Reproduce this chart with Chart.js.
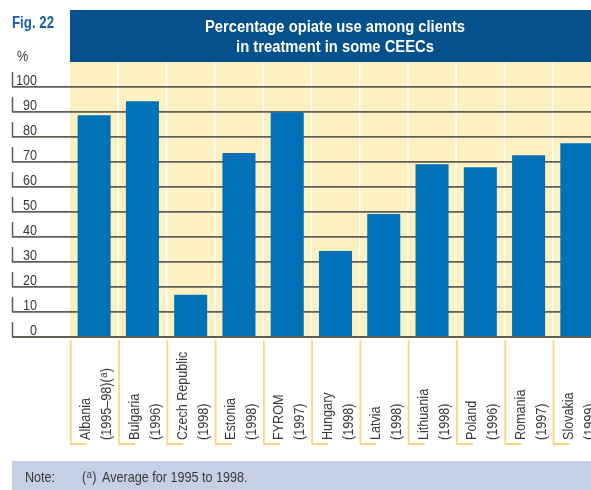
<!DOCTYPE html>
<html>
<head>
<meta charset="utf-8">
<script src="https://cdn.jsdelivr.net/npm/chart.js@4.4.1/dist/chart.umd.min.js"></script>
<style>
  html, body { margin: 0; padding: 0; background: #fff; width: 591px; height: 490px; overflow: hidden; }
  canvas { display: block; }
</style>
</head>
<body>
<canvas id="chartOpiate" width="601" height="490"></canvas>
<script>
const countries = ["Albania", "Bulgaria", "Czech Republic", "Estonia", "FYROM", "Hungary", "Latvia", "Lithuania", "Poland", "Romania", "Slovakia"];
const years = ["(1995–98)", "(1996)", "(1998)", "(1998)", "(1997)", "(1998)", "(1998)", "(1998)", "(1996)", "(1997)", "(1999)"];
const noteMarks = [true, false, false, false, false, false, false, false, false, false, false];
const opiateShare = [88.7, 94.3, 16.9, 73.6, 89.9, 34.4, 49.2, 69.1, 67.9, 72.7, 77.5];
const yTicks = [0, 10, 20, 30, 40, 50, 60, 70, 80, 90, 100];

const titleLines = ["Percentage opiate use among clients", "in treatment in some CEECs"];
const figLabel = "Fig. 22";
const unitLabel = "%";
const noteText = "Average for 1995 to 1998.";

const FONT = '"Liberation Sans", Arial, sans-serif';
const NARROW = 0.84; // squeeze to imitate a condensed face
const TEXT_COLOR = "#3b3b3b";
const GRID_COLOR = "#625d55";

const chartElement = document.querySelector("#chartOpiate");

// text squeezed along its own direction; returns the drawn width
const narrowText = (ctx, text, x, y, font, align = "left", squeeze = NARROW) => {
  ctx.save();
  ctx.font = font;
  ctx.textAlign = align;
  ctx.textBaseline = "alphabetic";
  ctx.translate(x, y);
  ctx.scale(squeeze, 1);
  ctx.fillText(text, 0, 0);
  const w = ctx.measureText(text).width * squeeze;
  ctx.restore();
  return w;
};

// draws "pre(a)" with the small raised a
const drawWithMark = (ctx, pre, x, y, size) => {
  let cx = x;
  cx += narrowText(ctx, pre + "(", cx, y, `${size}px ${FONT}`);
  cx += narrowText(ctx, "a", cx + 0.5, y - size * 0.3, `${Math.round(size * 0.72)}px ${FONT}`) + 1;
  cx += narrowText(ctx, ")", cx, y, `${size}px ${FONT}`);
  return cx;
};

const decorPlugin = {
  id: "decor",
  beforeDraw(chart) {
    const { ctx, chartArea, scales: { x, y } } = chart;
    const y0 = y.getPixelForValue(0);
    const half = (x.getPixelForValue(1) - x.getPixelForValue(0)) / 2;
    ctx.save();
    // title band
    ctx.fillStyle = "#04518C";
    ctx.fillRect(chartArea.left, 10, chart.width - chartArea.left, 52);
    // yellow plot background
    ctx.fillStyle = "#FDF0C1";
    ctx.fillRect(chartArea.left, 62, chartArea.right - chartArea.left, y0 - 62);
    // white separators
    ctx.strokeStyle = "#ffffff";
    ctx.lineWidth = 1.5;
    for (let i = 1; i < countries.length; i++) {
      const bx = x.getPixelForValue(i) - half;
      ctx.beginPath();
      ctx.moveTo(bx, 62);
      ctx.lineTo(bx, y0);
      ctx.stroke();
    }
    ctx.restore();
  },
  afterDatasetsDraw(chart) {
    const { ctx, scales: { y } } = chart;
    const y0 = y.getPixelForValue(0);
    ctx.save();
    ctx.strokeStyle = GRID_COLOR;
    ctx.lineWidth = 1.8;
    ctx.beginPath();
    ctx.moveTo(12, y0);
    ctx.lineTo(chart.width, y0);
    ctx.stroke();
    ctx.restore();
  },
  afterDraw(chart) {
    const { ctx, scales: { x, y } } = chart;
    const half = (x.getPixelForValue(1) - x.getPixelForValue(0)) / 2;
    ctx.save();

    // fig label
    ctx.fillStyle = "#1C5DA6";
    narrowText(ctx, figLabel, 12, 28, `bold 17px ${FONT}`, "left", 0.78);

    // title
    ctx.fillStyle = "#ffffff";
    narrowText(ctx, titleLines[0], 335, 32, `bold 16.5px ${FONT}`, "center", 0.895);
    narrowText(ctx, titleLines[1], 335, 52, `bold 16.5px ${FONT}`, "center", 0.895);

    // unit
    ctx.fillStyle = TEXT_COLOR;
    narrowText(ctx, unitLabel, 17, 61, `15px ${FONT}`);

    // y tick labels and the small vertical marks at their left
    ctx.strokeStyle = GRID_COLOR;
    ctx.lineWidth = 1.5;
    y.ticks.forEach((t) => {
      const py = y.getPixelForValue(t.value);
      ctx.beginPath();
      ctx.moveTo(12.5, py - 15);
      ctx.lineTo(12.5, py);
      ctx.stroke();
      ctx.fillStyle = TEXT_COLOR;
      narrowText(ctx, String(t.value), 37, py - 2.5, `15px ${FONT}`, "right");
    });

    // category brackets and rotated labels
    const y0 = y.getPixelForValue(0);
    countries.forEach((name, i) => {
      const bx = x.getPixelForValue(i) - half + 0.75;
      ctx.strokeStyle = "#FCD684";
      ctx.lineWidth = 1.8;
      ctx.beginPath();
      ctx.moveTo(bx, y0 + 3);
      ctx.lineTo(bx, 444);
      ctx.lineTo(bx + 16, 444);
      ctx.stroke();

      ctx.save();
      ctx.translate(bx, 440);
      ctx.rotate(-Math.PI / 2);
      ctx.fillStyle = TEXT_COLOR;
      narrowText(ctx, name, 0, 19.5, `15px ${FONT}`);
      if (noteMarks[i]) {
        drawWithMark(ctx, years[i], 0, 40.5, 15);
      } else {
        narrowText(ctx, years[i], 0, 40.5, `15px ${FONT}`);
      }
      ctx.restore();
    });

    // note band
    ctx.fillStyle = "#C5D0E5";
    ctx.fillRect(12, 461, chart.width - 12, 29);
    ctx.fillStyle = TEXT_COLOR;
    narrowText(ctx, "Note:", 25, 482, `15px ${FONT}`);
    drawWithMark(ctx, "", 82, 482, 15);
    narrowText(ctx, noteText, 102, 482, `15px ${FONT}`);

    ctx.restore();
  },
};

new Chart(chartElement, {
  type: "bar",
  data: {
    labels: countries,
    datasets: [
      {
        label: "Opiate use (%)",
        data: opiateShare,
        backgroundColor: "#0070B9",
        borderWidth: 0,
        barPercentage: 0.684,
        categoryPercentage: 1,
      },
    ],
  },
  options: {
    responsive: false,
    animation: false,
    devicePixelRatio: 1,
    layout: {
      padding: { top: 87, bottom: 153, left: 12, right: 0 },
    },
    scales: {
      x: {
        display: false,
      },
      y: {
        min: 0,
        max: 100,
        afterBuildTicks: (scale) => {
          scale.ticks = yTicks.map((v) => ({ value: v }));
        },
        afterFit: (scale) => {
          scale.width = 58;
        },
        border: { display: false },
        grid: {
          color: GRID_COLOR,
          lineWidth: 1.8,
          drawTicks: true,
          tickLength: 58,
          tickColor: GRID_COLOR,
        },
        ticks: {
          display: false,
        },
      },
    },
    plugins: {
      legend: { display: false },
      tooltip: { enabled: false },
    },
  },
  plugins: [decorPlugin],
});
</script>
</body>
</html>
